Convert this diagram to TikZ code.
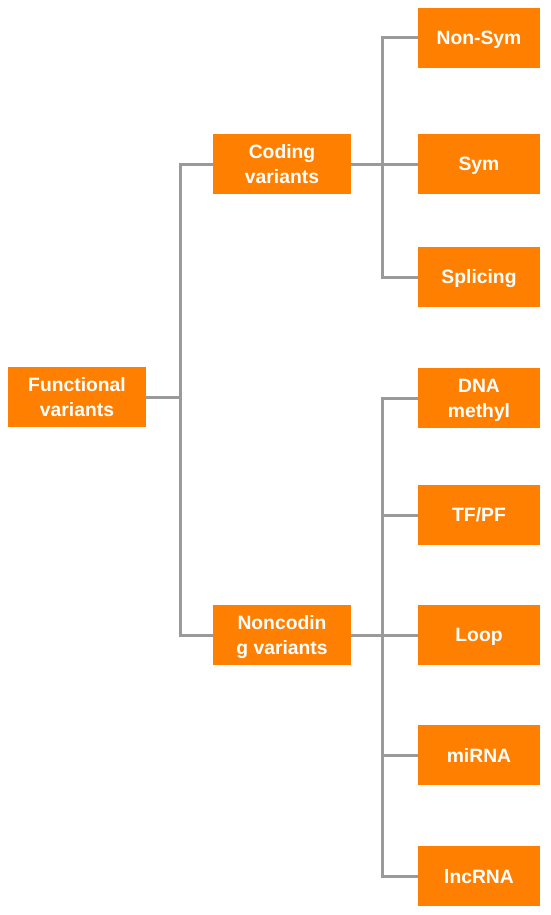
\documentclass[tikz,border=0pt]{standalone}
\usepackage{fontspec}
\setmainfont{Liberation Sans}
\usetikzlibrary{positioning}
\usetikzlibrary{calc}
\definecolor{boxorange}{HTML}{FF8000}
\definecolor{linegray}{HTML}{9A9A9A}

\begin{document}
\begin{tikzpicture}
  [
    x=1pt,
    y=-1pt,
    box/.style={
      fill=boxorange,
      text=white,
      font=\bfseries\fontsize{19.3}{25}\selectfont,
      align=center,
      inner sep=0pt,
      text depth=0pt,
      minimum height=60pt
    },
    branch/.style={
      box,
      minimum width=138pt
    },
    leaf/.style={
      box,
      minimum width=122pt
    },
    link/.style={
      draw=linegray,
      line width=3pt
    }
  ]
    \useasboundingbox (0,0) rectangle (550,915);
    % root and branches
    \node [branch] (functional) at (77,397) {Functional\\variants};
    \node [branch] (coding) at (282,164) {Coding\\variants};
    \node [branch] (noncoding) at (282,635) {Noncodin\\g variants};
    % leaves
    \node [leaf] (nonsym) at (479,38) {Non-Sym};
    \node [leaf] (sym) at (479,164) {Sym};
    \node [leaf] (splicing) at (479,277) {Splicing};
    \node [leaf] (dnamethyl) at (479,398) {DNA\\methyl};
    \node [leaf] (tfpf) at (479,515) {TF/PF};
    \node [leaf] (loop) at (479,635) {Loop};
    \node [leaf] (mirna) at (479,755) {miRNA};
    \node [leaf] (lncrna) at (479,876) {lncRNA};
    % connectors
    \foreach \kid in {coding,noncoding}
      \draw [link] (functional.east) -| ([xshift=-32pt]\kid.west) -- (\kid.west);
    \foreach \kid in {nonsym,sym,splicing}
      \draw [link] (coding.east) -| ([xshift=-35pt]\kid.west) -- (\kid.west);
    \foreach \kid in {dnamethyl,tfpf,loop,mirna,lncrna}
      \draw [link] (noncoding.east) -| ([xshift=-35pt]\kid.west) -- (\kid.west);
\end{tikzpicture}
\end{document}
